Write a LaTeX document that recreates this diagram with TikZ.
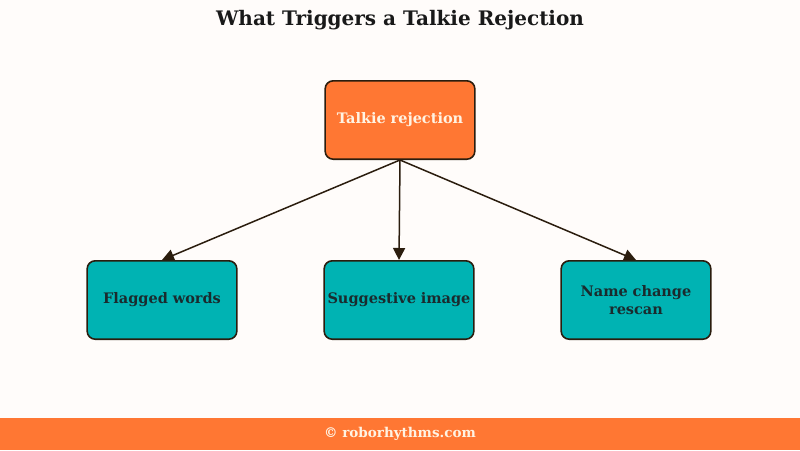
\documentclass[tikz,border=0pt]{standalone}
\usepackage{fontspec}
\setmainfont{DejaVu Serif}
\usetikzlibrary{arrows.meta}
\definecolor{bgc}{HTML}{FFFCFA}
\definecolor{orng}{HTML}{FF7733}
\definecolor{teal2}{HTML}{00B3B3}
\definecolor{edgec}{HTML}{2B1D0E}
\definecolor{darktxt}{HTML}{1A2B2E}
\definecolor{cream}{HTML}{FFF3E3}
\tikzset{
  box/.style={draw=edgec, line width=1.6pt, rounded corners=8pt, minimum width=148.4pt, minimum height=78.4pt, align=center, text width=143pt, font=\bfseries\fontsize{14.5}{18}\selectfont},
  topbox/.style={box, fill=orng, text=cream},
  leafbox/.style={box, fill=teal2, text=darktxt},
  conn/.style={draw=edgec, line width=1.5pt, -{Triangle[length=12pt,width=12pt]}}
}
\begin{document}
\begin{tikzpicture}[x=1pt,y=-1pt]
\fill[bgc] (0,0) rectangle (800,450);
\useasboundingbox (0,0) rectangle (800,450);
\fill[orng] (0,418) rectangle (800,450);
\node[font=\bfseries\fontsize{20}{22}\selectfont, text=black!90] (title) at (400,20) {What Triggers a Talkie Rejection};
\node[topbox] (root) at (400,120) {\raisebox{-1.5pt}{Talkie rejection}};
\node[leafbox] (a) at (162,300) {\raisebox{-1.5pt}{Flagged words}};
\node[leafbox] (b) at (399,300) {\raisebox{-1.5pt}{Suggestive image}};
\node[leafbox] (c) at (636,300) {Name change\\rescan};
\draw[conn] (root.south) -- (a.north);
\draw[conn] (root.south) -- (b.north);
\draw[conn] (root.south) -- (c.north);
\node[font=\bfseries\fontsize{13.5}{15}\selectfont, text=cream] (foot) at (400,434) {© roborhythms.com};
\end{tikzpicture}
\end{document}
